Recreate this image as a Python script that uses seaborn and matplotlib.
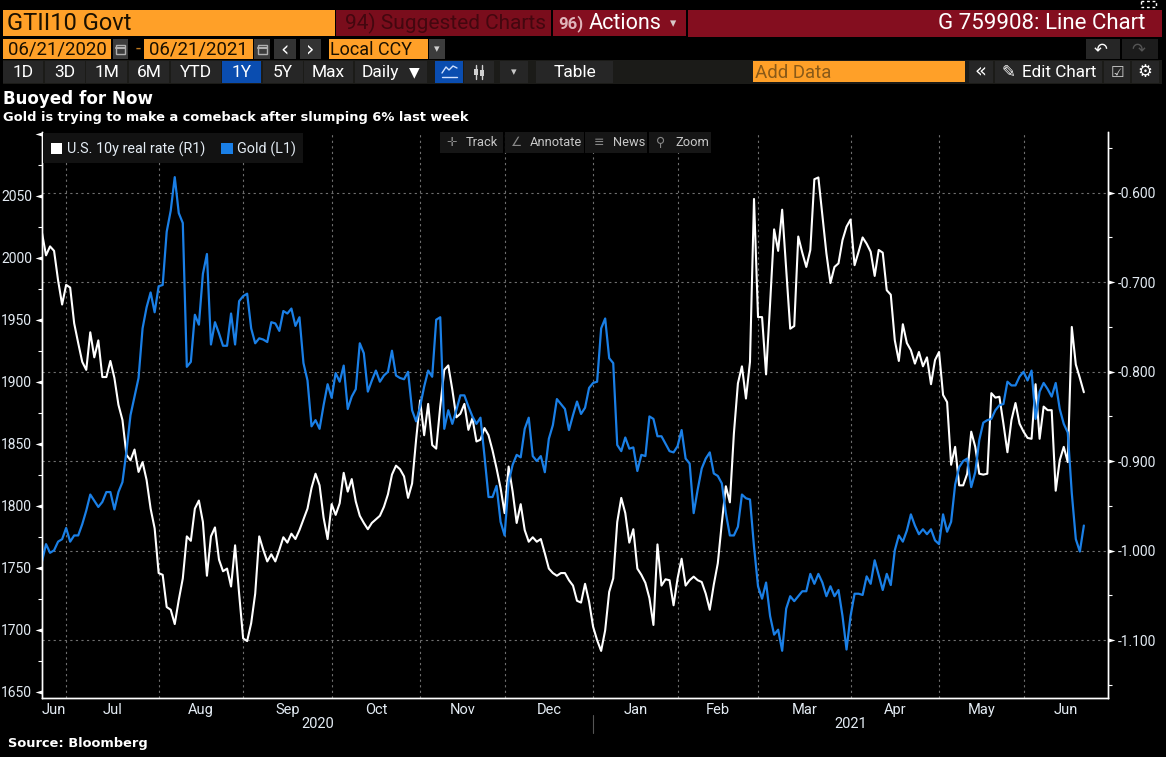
import numpy as np
import pandas as pd
import matplotlib
matplotlib.use("Agg")
import matplotlib.pyplot as plt
import seaborn as sns
from matplotlib.patches import Rectangle
from matplotlib.path import Path

# one value per trading day
real_rate = [
    -0.645, -0.670, -0.660, -0.665, -0.698, -0.725, -0.703, -0.706, -0.746, -0.768,
    -0.789, -0.798, -0.756, -0.784, -0.765, -0.806, -0.806, -0.788, -0.807, -0.837,
    -0.854, -0.893, -0.899, -0.887, -0.912, -0.901, -0.921, -0.953, -0.975, -1.025,
    -1.027, -1.063, -1.066, -1.082, -1.055, -1.031, -0.984, -0.989, -0.953, -0.944,
    -0.968, -1.028, -0.984, -0.974, -1.010, -1.023, -1.020, -1.040, -0.994, -1.048,
    -1.098, -1.101, -1.081, -1.048, -0.984, -0.999, -1.012, -1.004, -1.012, -0.999,
    -0.985, -0.991, -0.981, -0.987, -0.977, -0.965, -0.953, -0.930, -0.914, -0.927,
    -0.963, -0.987, -0.948, -0.960, -0.947, -0.913, -0.934, -0.920, -0.945, -0.961,
    -0.969, -0.976, -0.969, -0.965, -0.961, -0.951, -0.937, -0.915, -0.905, -0.909,
    -0.917, -0.941, -0.925, -0.876, -0.832, -0.871, -0.836, -0.882, -0.886, -0.839,
    -0.798, -0.793, -0.820, -0.851, -0.847, -0.836, -0.865, -0.852, -0.878, -0.876,
    -0.863, -0.871, -0.888, -0.908, -0.930, -0.958, -0.906, -0.934, -0.969, -0.948,
    -0.977, -0.990, -0.985, -0.990, -0.987, -1.003, -1.020, -1.025, -1.028, -1.025,
    -1.025, -1.033, -1.039, -1.056, -1.058, -1.037, -1.057, -1.085, -1.100, -1.112,
    -1.089, -1.046, -1.031, -0.968, -0.941, -0.958, -0.991, -0.976, -1.020, -1.027,
    -1.036, -1.053, -1.083, -0.993, -1.039, -1.032, -1.033, -1.061, -1.031, -1.009,
    -1.039, -1.033, -1.029, -1.033, -1.035, -1.048, -1.066, -1.038, -1.014, -0.969,
    -0.928, -0.946, -0.869, -0.813, -0.794, -0.830, -0.789, -0.607, -0.739, -0.739,
    -0.803, -0.724, -0.641, -0.665, -0.619, -0.686, -0.752, -0.749, -0.649, -0.667,
    -0.683, -0.664, -0.585, -0.583, -0.625, -0.668, -0.701, -0.683, -0.679, -0.653,
    -0.638, -0.630, -0.681, -0.666, -0.650, -0.657, -0.666, -0.693, -0.664, -0.667,
    -0.709, -0.714, -0.765, -0.788, -0.747, -0.768, -0.776, -0.791, -0.778, -0.794,
    -0.784, -0.814, -0.787, -0.778, -0.826, -0.834, -0.904, -0.884, -0.927, -0.927,
    -0.914, -0.867, -0.884, -0.914, -0.915, -0.914, -0.824, -0.829, -0.828, -0.858,
    -0.890, -0.854, -0.835, -0.858, -0.867, -0.874, -0.875, -0.814, -0.875, -0.839,
    -0.843, -0.843, -0.933, -0.899, -0.884, -0.901, -0.750, -0.792, -0.807, -0.823,
]
gold = [
    1755, 1769, 1762, 1764, 1771, 1773, 1782, 1771, 1776, 1776,
    1785, 1796, 1809, 1804, 1799, 1803, 1811, 1811, 1797, 1811,
    1819, 1844, 1873, 1888, 1903, 1943, 1960, 1972, 1956, 1977,
    1978, 2021, 2038, 2065, 2036, 2028, 1912, 1916, 1954, 1946,
    1987, 2003, 1930, 1948, 1939, 1929, 1929, 1955, 1930, 1965,
    1969, 1971, 1943, 1931, 1935, 1934, 1932, 1948, 1947, 1941,
    1957, 1955, 1959, 1945, 1952, 1915, 1901, 1864, 1869, 1862,
    1881, 1898, 1887, 1907, 1900, 1913, 1878, 1888, 1894, 1931,
    1923, 1892, 1901, 1909, 1900, 1905, 1908, 1925, 1905, 1903,
    1902, 1908, 1877, 1868, 1880, 1896, 1909, 1904, 1950, 1952,
    1862, 1877, 1866, 1877, 1889, 1889, 1880, 1872, 1866, 1871,
    1840, 1807, 1807, 1816, 1787, 1776, 1819, 1833, 1841, 1839,
    1862, 1871, 1840, 1836, 1840, 1827, 1854, 1865, 1886, 1882,
    1878, 1861, 1873, 1884, 1874, 1879, 1895, 1899, 1900, 1943,
    1951, 1919, 1915, 1849, 1844, 1855, 1846, 1847, 1828, 1841,
    1840, 1872, 1870, 1856, 1856, 1850, 1844, 1843, 1848, 1861,
    1838, 1834, 1794, 1813, 1830, 1838, 1843, 1826, 1824, 1818,
    1794, 1776, 1776, 1783, 1809, 1806, 1805, 1767, 1735, 1725,
    1738, 1711, 1696, 1700, 1683, 1717, 1727, 1723, 1727, 1731,
    1731, 1745, 1737, 1745, 1738, 1727, 1735, 1727, 1732, 1711,
    1684, 1711, 1729, 1729, 1728, 1743, 1737, 1756, 1744, 1732,
    1745, 1736, 1764, 1776, 1771, 1780, 1793, 1784, 1777, 1781,
    1777, 1781, 1772, 1769, 1793, 1779, 1787, 1817, 1831, 1836,
    1838, 1815, 1827, 1853, 1867, 1869, 1870, 1877, 1881, 1882,
    1900, 1897, 1897, 1904, 1908, 1901, 1909, 1870, 1892, 1899,
    1894, 1888, 1899, 1878, 1866, 1859, 1810, 1773, 1763, 1784,
]
gold_ticks = [1650, 1700, 1750, 1800, 1850, 1900, 1950, 2000, 2050, 2100]
gold_labels = ["1650", "1700", "1750", "1800", "1850", "1900", "1950", "2000", "2050", ""]
gold_minor = [1675, 1725, 1775, 1825, 1875, 1925, 1975, 2025, 2075]
rate_ticks = [-1.1, -1.0, -0.9, -0.8, -0.7, -0.6]
rate_labels = ["-1.100", "-1.000", "-0.900", "-0.800", "-0.700", "-0.600"]
rate_minor = [-1.15, -1.05, -0.95, -0.85, -0.75, -0.65, -0.55]

NARROW = ["Roboto", "DejaVu Sans"]
SYMBOL = ["DejaVu Sans"]
ORANGE = "#ffa028"
RED = "#840e1f"
BTN = "#262626"
BLUE = "#1a7fe6"
TXT = "#e4ecf4"
GRID = "#6f6f6f"

sns.set_theme(style="dark", rc={"axes.facecolor": "black", "figure.facecolor": "black"})
plt.rcParams["font.family"] = NARROW

# Bloomberg squeezes out weekends and holidays, so plot against trading-day position
dates = pd.bdate_range("2020-06-22", "2021-06-21").drop(pd.Timestamp("2020-12-25"))
df = pd.DataFrame({"date": dates, "rate": real_rate, "gold": gold})
df["pos"] = np.arange(len(df))
month_end = df.groupby(df["date"].dt.to_period("M"))["pos"].max().tolist()[:-1]
x_right = 265
edges = [0] + month_end + [x_right]
mids = [(a + b) / 2 for a, b in zip(edges[:-1], edges[1:])]
month_names = ["Jun", "Jul", "Aug", "Sep", "Oct", "Nov", "Dec", "Jan", "Feb", "Mar", "Apr", "May", "Jun"]
year_break = month_end[6]

fig = plt.figure(figsize=(11.66, 7.57), dpi=100)
ax = fig.add_axes([42 / 1166, 1 - 698 / 757, 1066 / 1166, 566 / 757])
sns.lineplot(x="pos", y="rate", data=df, ax=ax, color="white", linewidth=1.5, errorbar=None)
ax2 = ax.twinx()
sns.lineplot(x="pos", y="gold", data=df, ax=ax2, color=BLUE, linewidth=1.6, errorbar=None)

ax.set_xlim(0, x_right)
ax.set_ylim(-1.1646, -0.5322)
ax2.set_ylim(1644.9, 2101.4)
ax.set_xlabel("")
ax.set_ylabel("")
ax2.set_xlabel("")
ax2.set_ylabel("")

ax.yaxis.tick_right()
ax2.yaxis.tick_left()
ax.set_yticks(rate_ticks, rate_labels)
ax.set_yticks(rate_minor, minor=True)
ax2.set_yticks(gold_ticks, gold_labels)
ax2.set_yticks(gold_minor, minor=True)
ax.set_xticks(month_end, [""] * len(month_end))
ax.set_xticks(mids, month_names, minor=True)

ax.grid(True, which="major", color=GRID, linestyle=(0, (2, 3)), linewidth=0.8)
ax.set_axisbelow(True)
ax2.grid(False)
ax2.patch.set_visible(False)

for a in (ax, ax2):
    for name, sp in a.spines.items():
        sp.set_visible(name != "top")
        sp.set_color("white")
        sp.set_linewidth(1.0)

ax.tick_params(axis="x", which="major", length=3.5, width=0.8, color="white")
ax.tick_params(axis="x", which="minor", length=0, labelsize=10.5, labelcolor=TXT, pad=3.5)
ax.tick_params(axis="y", which="major", length=10, pad=-3, labelsize=10, labelcolor=TXT,
               right=True, left=False)
ax.tick_params(axis="y", which="minor", length=3, width=0.8, color="white", right=True, left=False)
ax2.tick_params(axis="y", which="major", length=10, pad=-3, labelsize=10, labelcolor=TXT,
                left=True, right=False)
ax2.tick_params(axis="y", which="minor", length=3, width=0.8, color="white", left=True, right=False)

# triangle tick marks
left_tri = Path([(0, -0.3), (0, 0.3), (-1, 0), (0, -0.3)])
right_tri = Path([(0, -0.3), (0, 0.3), (1, 0), (0, -0.3)])
for t in ax2.yaxis.get_major_ticks():
    t.tick1line.set_marker(left_tri)
    t.tick1line.set_markerfacecolor("white")
    t.tick1line.set_markeredgewidth(0)
for t in ax.yaxis.get_major_ticks():
    t.tick2line.set_marker(right_tri)
    t.tick2line.set_markerfacecolor("white")
    t.tick2line.set_markeredgewidth(0)

# year labels under the months
xt = ax.get_xaxis_transform()
ax.annotate("2020", xy=(year_break / 2, 0), xycoords=xt, xytext=(0, -18.5), textcoords="offset points",
            ha="center", va="center", fontsize=10.5, color=TXT)
ax.annotate("2021", xy=((year_break + x_right) / 2, 0), xycoords=xt, xytext=(0, -18.5),
            textcoords="offset points", ha="center", va="center", fontsize=10.5, color=TXT)
ax.plot([year_break, year_break], [-0.03, -0.062], transform=xt, color="#555555", lw=0.8, clip_on=False)

# terminal chrome, drawn in screen pixels
ui = fig.add_axes([0, 0, 1, 1], zorder=10)
ui.set_xlim(0, 1166)
ui.set_ylim(757, 0)
ui.axis("off")


def box(x0, y0, x1, y1, color):
    ui.add_patch(Rectangle((x0, y0), x1 - x0, y1 - y0, fc=color, ec="none"))


def label(x, y, s, size=12, color=TXT, ha="left", family=NARROW, weight="normal"):
    ui.text(x, y, s, fontsize=size, color=color, ha=ha, va="center", family=family, weight=weight)


# row 1
box(3, 10, 335, 36, ORANGE)
label(7, 23.5, "GTII10 Govt", 17, "#1a1000")
box(336, 10, 551, 36, "#7a0d1c")
label(345, 23.5, "94) Suggested Charts", 15, "#43070f")
box(553, 10, 686, 36, RED)
label(558, 23.5, "96)", 12, "#e0b5bb", weight="bold")
label(589, 23.5, "Actions", 15.5, "white")
label(673, 24, "▾", 9, "#d8c8c8", ha="center", family=SYMBOL)
box(688, 10, 1162, 37, RED)
label(1145, 23.5, "G 759908: Line Chart", 16, "white", ha="right")
ui.add_patch(Rectangle((1141, 1), 15, 6, fc="none", ec="white", lw=1, ls=(0, (2, 2))))

# row 2
box(3, 39, 111, 59, ORANGE)
label(8, 50, "06/21/2020", 13.4, "#1a1000")
box(113, 39, 128, 59, "#3c3c3c")
box(144, 39, 253, 59, ORANGE)
label(149, 50, "06/21/2021", 13.4, "#1a1000")
box(254, 39, 270, 59, "#3c3c3c")
for cx in (120.5, 262):
    ui.add_patch(Rectangle((cx - 4.5, 45), 9, 9, fc="none", ec="#b0b0b0", lw=1))
    ui.plot([cx - 4.5, cx + 4.5], [47.5, 47.5], color="#b0b0b0", lw=1.5)
label(138, 49, "-", 13, "#c07a20", ha="center")
box(274, 39, 296, 59, "#333333")
label(285, 49, "‹", 15, "white", ha="center", family=SYMBOL)
box(300, 39, 321, 59, "#333333")
label(310, 49, "›", 15, "white", ha="center", family=SYMBOL)
box(329, 39, 428, 59, ORANGE)
label(330, 50, "Local CCY", 13, "#1a1000")
box(429, 39, 445, 59, "#3c3c3c")
label(437, 49, "▾", 8, "#d0d0d0", ha="center", family=SYMBOL)
box(1086, 39, 1120, 59, "#262626")
label(1101, 49, "↶", 12, "white", ha="center", family=SYMBOL)
box(1122, 39, 1158, 59, "#1c1c1c")
label(1138, 49, "↷", 12, "#555555", ha="center", family=SYMBOL)

# row 3
box(3, 60, 1162, 84, "#1b1b18")
buttons = [(3, 43, "1D"), (45, 85, "3D"), (86, 127, "1M"), (129, 169, "6M"), (171, 221, "YTD"),
           (222, 261, "1Y"), (263, 303, "5Y"), (304, 353, "Max")]
for x0, x1, name in buttons:
    box(x0, 61, x1, 83, "#0a4db0" if name == "1Y" else BTN)
    label((x0 + x1) / 2, 72.5, name, 12.5, "white", ha="center")
box(355, 61, 427, 83, BTN)
label(362, 72.5, "Daily", 12.5, "white")
label(414, 72, "▼", 10, "white", ha="center", family=SYMBOL)
box(435, 61, 463, 83, "#0a4db0")
ui.plot([442, 446, 449, 453, 457], [73, 67, 70, 66, 68], color="#cfe0ff", lw=1)
ui.plot([442, 457], [77, 77], color="#cfe0ff", lw=1)
box(464, 61, 494, 83, BTN)
ui.plot([476, 476], [65, 79], color="#d0d0d0", lw=1)
ui.plot([482, 482], [65, 79], color="#d0d0d0", lw=1)
box(474, 69, 478, 75, "#d0d0d0")
box(480, 70, 484, 76, "#d0d0d0")
box(500, 61, 528, 83, BTN)
label(514, 72, "▾", 8, "#c8c8c8", ha="center", family=SYMBOL)
box(536, 61, 613, 83, BTN)
label(574.5, 72.5, "Table", 12.5, "white", ha="center")
box(753, 61, 965, 82, ORANGE)
label(755, 72.5, "Add Data", 13.4, "#8a5a18")
box(969, 61, 993, 83, BTN)
label(981, 71, "«", 14, "white", ha="center", family=SYMBOL)
box(995, 61, 1102, 83, BTN)
label(1008, 72, "✎", 12, "white", ha="center", family=SYMBOL)
label(1022, 72.5, "Edit Chart", 12.3, "white")
box(1104, 61, 1130, 83, BTN)
label(1117, 72, "☑", 11, "#d0d0d0", ha="center", family=SYMBOL)
box(1132, 61, 1159, 83, BTN)
label(1145, 72, "⚙", 12, "white", ha="center", family=SYMBOL)

# headline
label(3, 98.5, "Buoyed for Now", 12.1, "white", family=SYMBOL, weight="bold")
label(3, 117, "Gold is trying to make a comeback after slumping 6% last week", 9.35, "white",
      family=SYMBOL, weight="bold")
label(8, 743, "Source: Bloomberg", 9.4, "white", family=SYMBOL, weight="bold")

# legend strip
box(43, 133, 303, 163, "#121212")
box(51, 143, 62, 154, "white")
label(67, 149, "U.S. 10y real rate (R1)", 10.4, TXT)
box(221, 143, 233, 154, BLUE)
label(237, 149, "Gold (L1)", 10.4, TXT)

# chart toolbar
for x0, x1, x_txt, name in [(440, 503, 466, "Track"), (505, 584, 530, "Annotate"),
                            (585, 647, 613, "News"), (649, 711, 675, "Zoom")]:
    box(x0, 132, x1, 153, "#161616")
    label(x_txt, 142.5, name, 9.3, "#c8c8c8")
label(452, 142.5, "✛", 9, "#888888", ha="center", family=SYMBOL)
label(517, 142.5, "∠", 9, "#888888", ha="center", family=SYMBOL)
label(599, 142.5, "≡", 9, "#888888", ha="center", family=SYMBOL)
label(661, 142.5, "⚲", 9, "#888888", ha="center", family=SYMBOL)

fig.savefig("out.png", dpi=100, facecolor="black")
